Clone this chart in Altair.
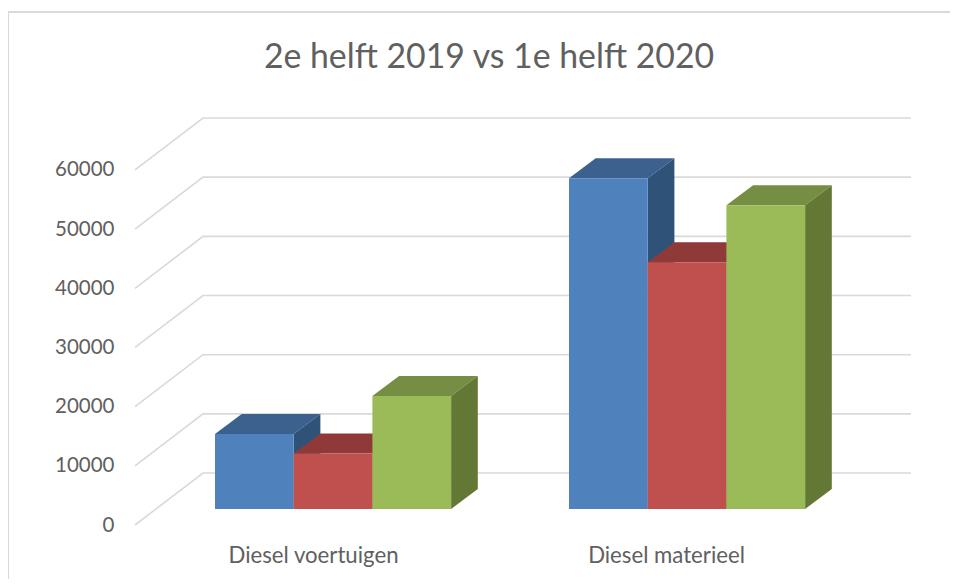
import altair as alt
import pandas as pd

title = "2e helft 2019 vs 1e helft 2020"
categories = ["Diesel voertuigen", "Diesel materieel"]
series_a = [12670, 55900]
series_b = [9400, 41700]
series_c = [19100, 51350]
y_ticks = [0, 10000, 20000, 30000, 40000, 50000, 60000]

palette = [
    ("#4F81BD", "#3B618F", "#2F5279"),
    ("#C0504D", "#8F3A38", "#7A302E"),
    ("#9BBB59", "#758E43", "#647836"),
]
GRID = "#D9D9D9"
TEXT = "#606060"
FONT = "Lato"

# layout (scale units): x is pixel-like, y is in data units
W, H = 776, 407
WALL_DX, WALL_DY = 68, 8784
BAR_DX, BAR_DY = 26.7, 3380
BASE = 2700
GROUP_X = [80, 434]
BAR_W = 78.7
Y_TOP = 60000 + WALL_DY

x_scale = alt.Scale(domain=[0, W], range=[0, W], nice=False, zero=False)
y_scale = alt.Scale(domain=[0, Y_TOP], nice=False, zero=False)

y_axis = alt.Axis(values=y_ticks, title=None, domain=False, ticks=False, grid=False,
                  labelColor=TEXT, labelFont=FONT, labelFontSize=20.5, labelPadding=21,
                  format="d")
x_axis = alt.Axis(values=[178, 531], title=None, domain=False, ticks=False, grid=False,
                  labelColor=TEXT, labelFont=FONT, labelFontSize=22.2, labelPadding=19.5,
                  labelExpr=f"datum.value < 350 ? '{categories[0]}' : '{categories[1]}'")

# wall and floor lines
grid_rows = []
for v in y_ticks:
    grid_rows += [
        {"t": v, "x": 0, "y": v},
        {"t": v, "x": WALL_DX, "y": v + WALL_DY},
        {"t": v, "x": W, "y": v + WALL_DY},
    ]
grid = alt.Chart(pd.DataFrame(grid_rows)).mark_line(color=GRID, strokeWidth=1.6).encode(
    x=alt.X("x:Q", scale=x_scale, axis=x_axis),
    y=alt.Y("y:Q", scale=y_scale, axis=y_axis),
    detail="t:N",
)

layers = [grid]

for g, gx in enumerate(GROUP_X):
    for s, vals in enumerate([series_a, series_b, series_c]):
        front, top, side = palette[s]
        x0 = gx + s * BAR_W
        x1 = x0 + BAR_W
        yb = BASE
        yt = BASE + vals[g]
        top_df = pd.DataFrame([
            {"y": yt, "xa": x0, "xb": x1},
            {"y": yt + BAR_DY, "xa": x0 + BAR_DX, "xb": x1 + BAR_DX},
        ])
        side_df = pd.DataFrame([
            {"x": x1, "ya": yb, "yb": yt},
            {"x": x1 + BAR_DX, "ya": yb + BAR_DY, "yb": yt + BAR_DY},
        ])
        front_df = pd.DataFrame([{"xa": x0, "xb": x1, "ya": yb, "yb": yt}])
        layers.append(
            alt.Chart(top_df).mark_area(orient="horizontal", color=top).encode(
                y=alt.Y("y:Q", scale=y_scale), x=alt.X("xa:Q", scale=x_scale), x2="xb:Q"))
        layers.append(
            alt.Chart(side_df).mark_area(orient="vertical", color=side).encode(
                x=alt.X("x:Q", scale=x_scale), y=alt.Y("ya:Q", scale=y_scale), y2="yb:Q"))
        layers.append(
            alt.Chart(front_df).mark_rect(color=front).encode(
                x=alt.X("xa:Q", scale=x_scale), x2="xb:Q",
                y=alt.Y("ya:Q", scale=y_scale), y2="yb:Q"))

# outer chart frame (left and top edges only)
frame_left = alt.Chart(pd.DataFrame([{"k": 0}])).mark_rule(color=GRID, strokeWidth=2).encode(
    x=alt.value(-127), y=alt.value(-106), y2=alt.value(461))
frame_top = alt.Chart(pd.DataFrame([{"k": 0}])).mark_rule(color=GRID, strokeWidth=2).encode(
    x=alt.value(-127), x2=alt.value(815), y=alt.value(-106))
layers += [frame_left, frame_top]

chart = alt.layer(*layers).properties(
    width=W,
    height=H,
    padding={"left": 127, "top": 110, "right": 39, "bottom": 54},
    autosize=alt.AutoSizeParams(type="none"),
    background="white",
    title=alt.TitleParams(title, font=FONT, fontSize=33.8, fontWeight="normal", color=TEXT,
                          anchor="middle", frame="group", dx=-34, offset=-64),
).configure_view(stroke=None)

chart.save("out.html", embed_options={"renderer": "svg", "actions": False})
